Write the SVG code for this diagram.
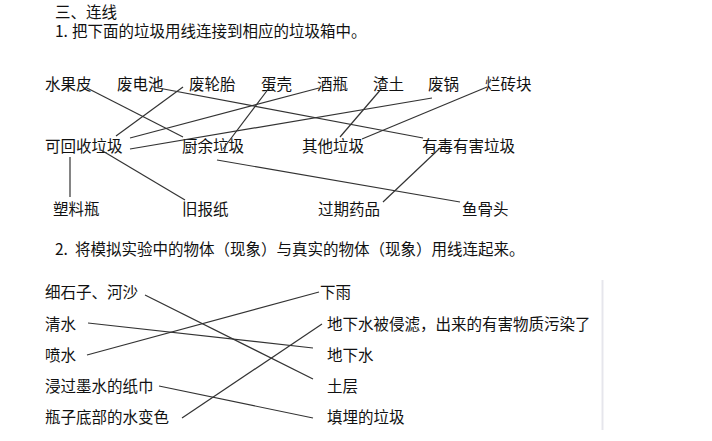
<svg xmlns="http://www.w3.org/2000/svg" width="712" height="441" viewBox="0 0 712 441">
<style>
text{font-family:"Noto Sans CJK SC","Noto Sans",sans-serif;font-size:15.5px;fill:#111}
.c line{stroke:#333;stroke-width:1.2;fill:none}
</style>
<rect width="712" height="441" fill="#fff"/>
<g id="titles">
<text x="55" y="17.5">三、连线</text>
<text x="55" y="36.5">1.<tspan x="72">把下面的垃圾用线连接到相应的垃圾箱中。</tspan></text>
<text x="55" y="255">2.<tspan x="75">将模拟实验中的物体（现象）与真实的物体（现象）用线连起来。</tspan></text>
</g>
<g id="n-shuiguopi"><text x="45" y="90">水果皮</text></g>
<g id="n-feidianchi"><text x="117" y="90">废电池</text></g>
<g id="n-feiluntai"><text x="189" y="90">废轮胎</text></g>
<g id="n-danke"><text x="261" y="90">蛋壳</text></g>
<g id="n-jiuping"><text x="317" y="90">酒瓶</text></g>
<g id="n-zhatu"><text x="373" y="90">渣土</text></g>
<g id="n-feiguo"><text x="428" y="90">废锅</text></g>
<g id="n-lanzhuankuai"><text x="485" y="90">烂砖块</text></g>
<g id="n-kehuishou"><text x="45" y="152">可回收垃圾</text></g>
<g id="n-chuyu"><text x="182" y="152">厨余垃圾</text></g>
<g id="n-qita"><text x="302" y="152">其他垃圾</text></g>
<g id="n-youdu"><text x="422" y="152">有毒有害垃圾</text></g>
<g id="n-suliaoping"><text x="53" y="215">塑料瓶</text></g>
<g id="n-jiubaozhi"><text x="182" y="215">旧报纸</text></g>
<g id="n-guoqiyaopin"><text x="318" y="215">过期药品</text></g>
<g id="n-yugutou"><text x="462" y="215">鱼骨头</text></g>
<g id="n-xishizi"><text x="45" y="298">细石子、河沙</text></g>
<g id="n-qingshui"><text x="45" y="330">清水</text></g>
<g id="n-penshui"><text x="45" y="361">喷水</text></g>
<g id="n-jinguo"><text x="45" y="392">浸过墨水的纸巾</text></g>
<g id="n-pingzi"><text x="45" y="423">瓶子底部的水变色</text></g>
<g id="n-xiayu"><text x="320" y="298">下雨</text></g>
<g id="n-dixiashuibei"><text x="327" y="330">地下水被侵滤，出来的有害物质污染了</text></g>
<g id="n-dixiashui"><text x="327" y="361">地下水</text></g>
<g id="n-tuceng"><text x="327" y="392">土层</text></g>
<g id="n-tianmai"><text x="327" y="423">填埋的垃圾</text></g>
<g id="divider"><line x1="602.5" y1="280" x2="602.5" y2="430" stroke="#e6e6ec" stroke-width="2"/></g>
<g class="c" id="connectors">
<line x1="87" y1="88" x2="183" y2="137"/>
<line x1="153" y1="87" x2="423" y2="138"/>
<line x1="183" y1="87" x2="116" y2="136"/>
<line x1="269" y1="88" x2="223" y2="149"/>
<line x1="319" y1="88" x2="130" y2="138"/>
<line x1="382" y1="88" x2="340" y2="137"/>
<line x1="432" y1="98" x2="130" y2="149"/>
<line x1="487" y1="87" x2="362" y2="139"/>
<line x1="440" y1="148" x2="383" y2="202"/>
<line x1="217" y1="160" x2="460" y2="202"/>
<line x1="70" y1="157" x2="70" y2="197"/>
<line x1="101" y1="150" x2="185" y2="200"/>
<line x1="145" y1="295" x2="313" y2="379"/>
<line x1="88" y1="323" x2="313" y2="348"/>
<line x1="87" y1="355" x2="319" y2="292"/>
<line x1="159" y1="386" x2="313" y2="418"/>
<line x1="182" y1="418" x2="322" y2="324"/>
</g>
</svg>
